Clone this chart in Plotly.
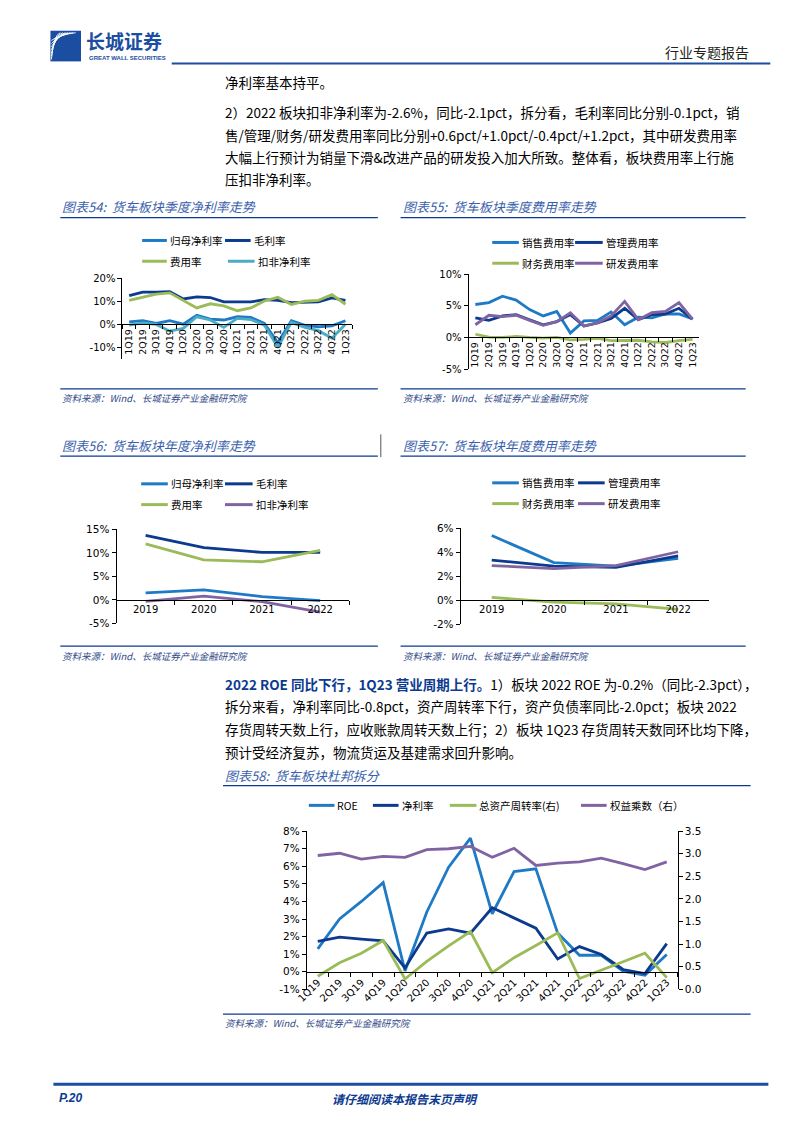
import plotly.graph_objects as go

W, H = 794, 1123

# ---- 数据 ----
quarters = ["1Q19", "2Q19", "3Q19", "4Q19", "1Q20", "2Q20", "3Q20", "4Q20", "1Q21",
            "2Q21", "3Q21", "4Q21", "1Q22", "2Q22", "3Q22", "4Q22", "1Q23"]
years = ["2019", "2020", "2021", "2022"]

# 图表54 季度净利率 (%)
q_gm_net = [1.1, 1.6, 0.4, 1.6, 0.1, 3.9, 2.3, 1.9, 3.3, 3.0, 0.4, -7.9, 1.6, -0.4, -1.0, -0.6, 1.6]
q_gross = [12.4, 13.9, 13.9, 14.1, 11.0, 11.9, 11.6, 9.7, 9.7, 9.7, 10.7, 10.4, 9.4, 9.6, 9.7, 11.4, 10.4]
q_fee = [10.4, 11.9, 13.1, 13.6, 10.4, 7.1, 8.9, 8.0, 5.9, 7.1, 10.1, 11.7, 8.6, 10.0, 10.4, 12.9, 8.7]
q_kf_net = [-0.3, 0.7, 0.0, -2.9, -1.7, 3.3, 1.9, -1.3, 2.6, 2.1, -0.3, -9.9, 0.9, -1.3, -2.7, -6.0, 0.1]

# 图表55 季度费用率 (%)
q_sale = [5.2, 5.5, 6.5, 5.9, 4.4, 3.4, 4.1, 0.7, 2.6, 2.7, 4.0, 2.0, 3.2, 3.1, 3.7, 3.7, 2.9]
q_admin = [3.1, 2.7, 3.4, 3.6, 2.8, 2.0, 2.5, 3.6, 1.8, 2.3, 3.0, 4.6, 2.8, 3.6, 3.7, 4.6, 2.9]
q_fin = [0.5, 0.05, 0.0, 0.15, 0.0, -0.1, 0.0, -0.4, -0.3, -0.15, -0.5, -0.5, -0.45, -0.7, -0.8, -0.5, -0.3]
q_rd = [2.0, 3.5, 3.3, 3.5, 2.7, 1.9, 2.5, 3.9, 1.8, 2.3, 3.4, 5.7, 2.8, 3.9, 4.1, 5.5, 2.9]

# 图表56 年度净利率 (%)
y_gm_net = [1.5, 2.1, 0.7, -0.15]
y_gross = [13.7, 11.1, 10.1, 10.1]
y_fee = [11.9, 8.5, 8.1, 10.5]
y_kf_net = [-0.35, 0.8, -0.4, -2.6]

# 图表57 年度费用率 (%)
y_sale = [5.4, 3.15, 2.85, 3.5]
y_admin = [3.35, 2.85, 2.75, 3.7]
y_fin = [0.25, -0.15, -0.3, -0.75]
y_rd = [2.9, 2.65, 2.9, 4.05]

# 图表58 杜邦拆分
d_roe = [1.3, 3.0, 4.0, 5.07, 0.05, 3.4, 5.95, 7.6, 3.3, 5.7, 5.85, 2.2, 0.94, 0.94, 0.04, -0.2, 0.98]
d_net = [1.73, 1.97, 1.86, 1.76, 0.22, 2.2, 2.44, 2.2, 3.64, 3.04, 2.48, 0.73, 1.43, 0.98, 0.13, -0.1, 1.6]
d_turnover = [0.29, 0.59, 0.80, 1.08, 0.23, 0.62, 0.96, 1.28, 0.37, 0.70, 0.97, 1.25, 0.24, 0.42, 0.61, 0.80, 0.26]
d_multiplier = [2.96, 3.01, 2.88, 2.94, 2.92, 3.09, 3.11, 3.16, 2.92, 3.12, 2.74, 2.79, 2.82, 2.90, 2.78, 2.65, 2.82]

NAVY = "#0B3A8F"
BLUE = "#1F7AC6"
GREEN = "#9BBB59"
CYAN = "#4BACC6"
PURPLE = "#8064A2"
CAP = "#3A61AD"
CJK = "Noto Sans CJK SC"
TICK = "DejaVu Sans"


def fx(x):
    return x / W


def fy(y):
    return 1 - y / H


fig = go.Figure()
shapes = []
notes = []


def panel(n, cats, x0, x1, ytop, ybot, yrange, yticks, angle, fsize):
    sfx = "" if n == 1 else str(n)
    zero = ybot - (0 - yrange[0]) / (yrange[1] - yrange[0]) * (ybot - ytop)
    fig.layout["xaxis" + sfx] = dict(
        domain=[fx(x0), fx(x1)], anchor="free", position=fy(zero),
        type="category", categoryorder="array", categoryarray=cats,
        range=[-0.5, len(cats) - 0.5], showline=True, linecolor="black", linewidth=1,
        ticks="outside", tickson="boundaries", ticklen=4, tickcolor="black",
        tickangle=angle, tickfont=dict(family=TICK, size=fsize, color="black"),
        showgrid=False, zeroline=False, fixedrange=True)
    fig.layout["yaxis" + sfx] = dict(
        domain=[fy(ybot), fy(ytop)], anchor="x" + sfx, range=yrange,
        tickmode="array", tickvals=yticks, ticktext=[f"{v}%" for v in yticks],
        showline=True, linecolor="black", linewidth=1,
        ticks="outside", ticklen=4, tickcolor="black",
        tickfont=dict(family=TICK, size=fsize + 0.5, color="black"),
        showgrid=False, zeroline=False, fixedrange=True)


def line(n, cats, vals, color, name, width=2.8, yax=None):
    sfx = "" if n == 1 else str(n)
    fig.add_trace(go.Scatter(x=cats, y=vals, mode="lines", name=name, showlegend=False,
                             line=dict(color=color, width=width),
                             xaxis="x" + sfx, yaxis=yax or ("y" + sfx)))


def legend_item(x0, x1, y, color, text, size=10.5):
    shapes.append(dict(type="line", xref="paper", yref="paper", x0=fx(x0), x1=fx(x1),
                       y0=fy(y), y1=fy(y), line=dict(color=color, width=3)))
    notes.append(dict(x=fx(x1 + 1), y=fy(y), text=text, xanchor="left", yanchor="middle",
                      font=dict(family=CJK, size=size, color="black")))


def hline(x0, x1, y, color=NAVY, width=1.2):
    shapes.append(dict(type="line", xref="paper", yref="paper", x0=fx(x0), x1=fx(x1),
                       y0=fy(y), y1=fy(y), line=dict(color=color, width=width)))


def text(x, y, s, size=13.5, color="black", anchor="left", family=CJK):
    notes.append(dict(x=fx(x), y=fy(y), text=s, xanchor=anchor, yanchor="middle",
                      font=dict(family=family, size=size, color=color)))


# ---- 图表54 ----
panel(1, quarters, 113, 346, 275, 357, [-15, 20], [-10, 0, 10, 20], -90, 9.5)
line(1, quarters, q_gm_net, BLUE, "归母净利率")
line(1, quarters, q_gross, NAVY, "毛利率")
line(1, quarters, q_fee, GREEN, "费用率")
line(1, quarters, q_kf_net, CYAN, "扣非净利率")
legend_item(133, 158, 237, BLUE, "归母净利率")
legend_item(217, 243, 237, NAVY, "毛利率")
legend_item(133, 158, 258, GREEN, "费用率")
legend_item(220, 247, 258, CYAN, "扣非净利率")

# ---- 图表55 ----
panel(2, quarters, 464, 698, 271, 367, [-5, 10], [-5, 0, 5, 10], -90, 9.5)
line(2, quarters, q_sale, BLUE, "销售费用率")
line(2, quarters, q_admin, NAVY, "管理费用率")
line(2, quarters, q_fin, GREEN, "财务费用率")
line(2, quarters, q_rd, PURPLE, "研发费用率")
legend_item(488, 515, 239, BLUE, "销售费用率")
legend_item(572, 600, 239, NAVY, "管理费用率")
legend_item(488, 515, 260, GREEN, "财务费用率")
legend_item(572, 600, 260, PURPLE, "研发费用率")

# ---- 图表56 ----
panel(3, years, 107, 343, 529, 624, [-5, 15], [-5, 0, 5, 10, 15], 0, 10)
line(3, years, y_gm_net, BLUE, "归母净利率")
line(3, years, y_gross, NAVY, "毛利率")
line(3, years, y_fee, GREEN, "费用率")
line(3, years, y_kf_net, PURPLE, "扣非净利率")
legend_item(132, 159, 483, BLUE, "归母净利率")
legend_item(217, 245, 483, NAVY, "毛利率")
legend_item(132, 159, 504, GREEN, "费用率")
legend_item(217, 245, 504, PURPLE, "扣非净利率")

# ---- 图表57 ----
panel(4, years, 456, 708, 528, 625, [-2, 6], [-2, 0, 2, 4, 6], 0, 10)
line(4, years, y_sale, BLUE, "销售费用率")
line(4, years, y_admin, NAVY, "管理费用率")
line(4, years, y_fin, GREEN, "财务费用率")
line(4, years, y_rd, PURPLE, "研发费用率")
legend_item(488, 515, 482, BLUE, "销售费用率")
legend_item(575, 602, 482, NAVY, "管理费用率")
legend_item(488, 515, 503, GREEN, "财务费用率")
legend_item(575, 602, 503, PURPLE, "研发费用率")

# ---- 图表58 ----
panel(5, quarters, 300, 676, 834, 994, [-1, 8], list(range(-1, 9)), -45, 10)
fig.layout["yaxis6"] = dict(
    domain=[fy(994), fy(834)], anchor="x5", overlaying="y5", side="right",
    range=[0, 3.5], tickvals=[0, 0.5, 1, 1.5, 2, 2.5, 3, 3.5], tickformat=".1f",
    showline=True, linecolor="black", linewidth=1, ticks="outside", ticklen=4,
    tickcolor="black", tickfont=dict(family=TICK, size=10.5, color="black"),
    showgrid=False, zeroline=False, fixedrange=True)
line(5, quarters, d_roe, BLUE, "ROE")
line(5, quarters, d_net, NAVY, "净利率")
line(5, quarters, d_turnover, GREEN, "总资产周转率(右)", yax="y6")
line(5, quarters, d_multiplier, PURPLE, "权益乘数（右）", yax="y6")
legend_item(302, 328, 808, BLUE, "ROE")
legend_item(367, 393, 808, NAVY, "净利率")
legend_item(445, 472, 808, GREEN, "总资产周转率(右)")
legend_item(578, 604, 808, PURPLE, "权益乘数（右）")

# ---- 页眉 ----
shapes.append(dict(type="rect", xref="paper", yref="paper", x0=fx(40), x1=fx(71),
                   y0=fy(56), y1=fy(25), fillcolor="#1B4DA0", line=dict(width=0)))
for k in range(7):
    sx, sy = 41, 54 - k * 3.2
    ex, ey = 50 + k * 2.6, 27
    shapes.append(dict(type="path", xref="paper", yref="paper",
                       path=f"M{fx(sx)},{fy(sy)} Q{fx(sx + 2 + k)},{fy(ey + 2)} {fx(ex)},{fy(ey)}",
                       line=dict(color="white", width=0.9)))
text(74, 35, "<b>长城证券</b>", size=19, color="#1B4DA0")
text(77, 53, "<b>GREAT WALL SECURITIES</b>", size=6, color="#1B4DA0", family="Liberation Sans")
text(750, 47, "行业专题报告", size=14, color="#222222", anchor="right")
hline(163, 770, 58, color="#1B4DA0", width=2)

# ---- 正文 ----
text(215, 77, "净利率基本持平。")
text(215, 107, "2）2022 板块扣非净利率为-2.6%，同比-2.1pct，拆分看，毛利率同比分别-0.1pct，销")
text(215, 130, "售/管理/财务/研发费用率同比分别+0.6pct/+1.0pct/-0.4pct/+1.2pct，其中研发费用率")
text(215, 153, "大幅上行预计为销量下滑&改进产品的研发投入加大所致。整体看，板块费用率上行施")
text(215, 175, "压扣非净利率。")

text(215, 685, "<b><span style='color:#0B3A8F'>2022 ROE 同比下行，1Q23 营业周期上行。</span></b>"
               "1）板块 2022 ROE 为-0.2%（同比-2.3pct），")
text(215, 708, "拆分来看，净利率同比-0.8pct，资产周转率下行，资产负债率同比-2.0pct；板块 2022")
text(215, 731, "存货周转天数上行，应收账款周转天数上行；2）板块 1Q23 存货周转天数同环比均下降，")
text(215, 754, "预计受经济复苏，物流货运及基建需求回升影响。")

# ---- 图表标题与来源 ----
src = "<i>资料来源：Wind、长城证券产业金融研究院</i>"
text(50, 203, "<i>图表54:  货车板块季度净利率走势</i>", size=13, color=CAP)
text(395, 203, "<i>图表55:  货车板块季度费用率走势</i>", size=13, color=CAP)
hline(50, 372, 214)
hline(395, 745, 214)
hline(50, 372, 387)
hline(395, 745, 387)
text(50, 396, src, size=9.5, color="#2F4A8A")
text(395, 396, src, size=9.5, color="#2F4A8A")

text(50, 444, "<i>图表56:  货车板块年度净利率走势</i>", size=13, color=CAP)
text(395, 444, "<i>图表57:  货车板块年度费用率走势</i>", size=13, color=CAP)
hline(50, 372, 455)
hline(395, 745, 455)
shapes.append(dict(type="line", xref="paper", yref="paper", x0=fx(375), x1=fx(375),
                   y0=fy(433), y1=fy(456), line=dict(color="#555555", width=1)))
hline(50, 372, 647)
hline(395, 745, 647)
text(50, 657, src, size=9.5, color="#2F4A8A")
text(395, 657, src, size=9.5, color="#2F4A8A")

text(215, 778, "<i>图表58:  货车板块杜邦拆分</i>", size=13, color=CAP)
hline(215, 750, 788)
hline(215, 750, 1019)
text(215, 1028, src, size=9.5, color="#2F4A8A")

# ---- 页脚 ----
hline(43, 768, 1090, color="#1B4DA0", width=3)
text(47, 1104, "<b><i>P.20</i></b>", size=12, color="#0B3A8F", family="Liberation Sans")
text(400, 1104, "<b><i>请仔细阅读本报告末页声明</i></b>", size=12, color="#0B3A8F", anchor="center")

for a in notes:
    a.update(xref="paper", yref="paper", showarrow=False)

fig.update_layout(
    width=W, height=H, margin=dict(l=0, r=0, t=0, b=0),
    paper_bgcolor="white", plot_bgcolor="white",
    shapes=shapes, annotations=notes, showlegend=False,
    font=dict(family=CJK, color="black"),
)

fig.write_html("out.html", config={"displayModeBar": False},
               post_script="document.body.style.margin='0';")
